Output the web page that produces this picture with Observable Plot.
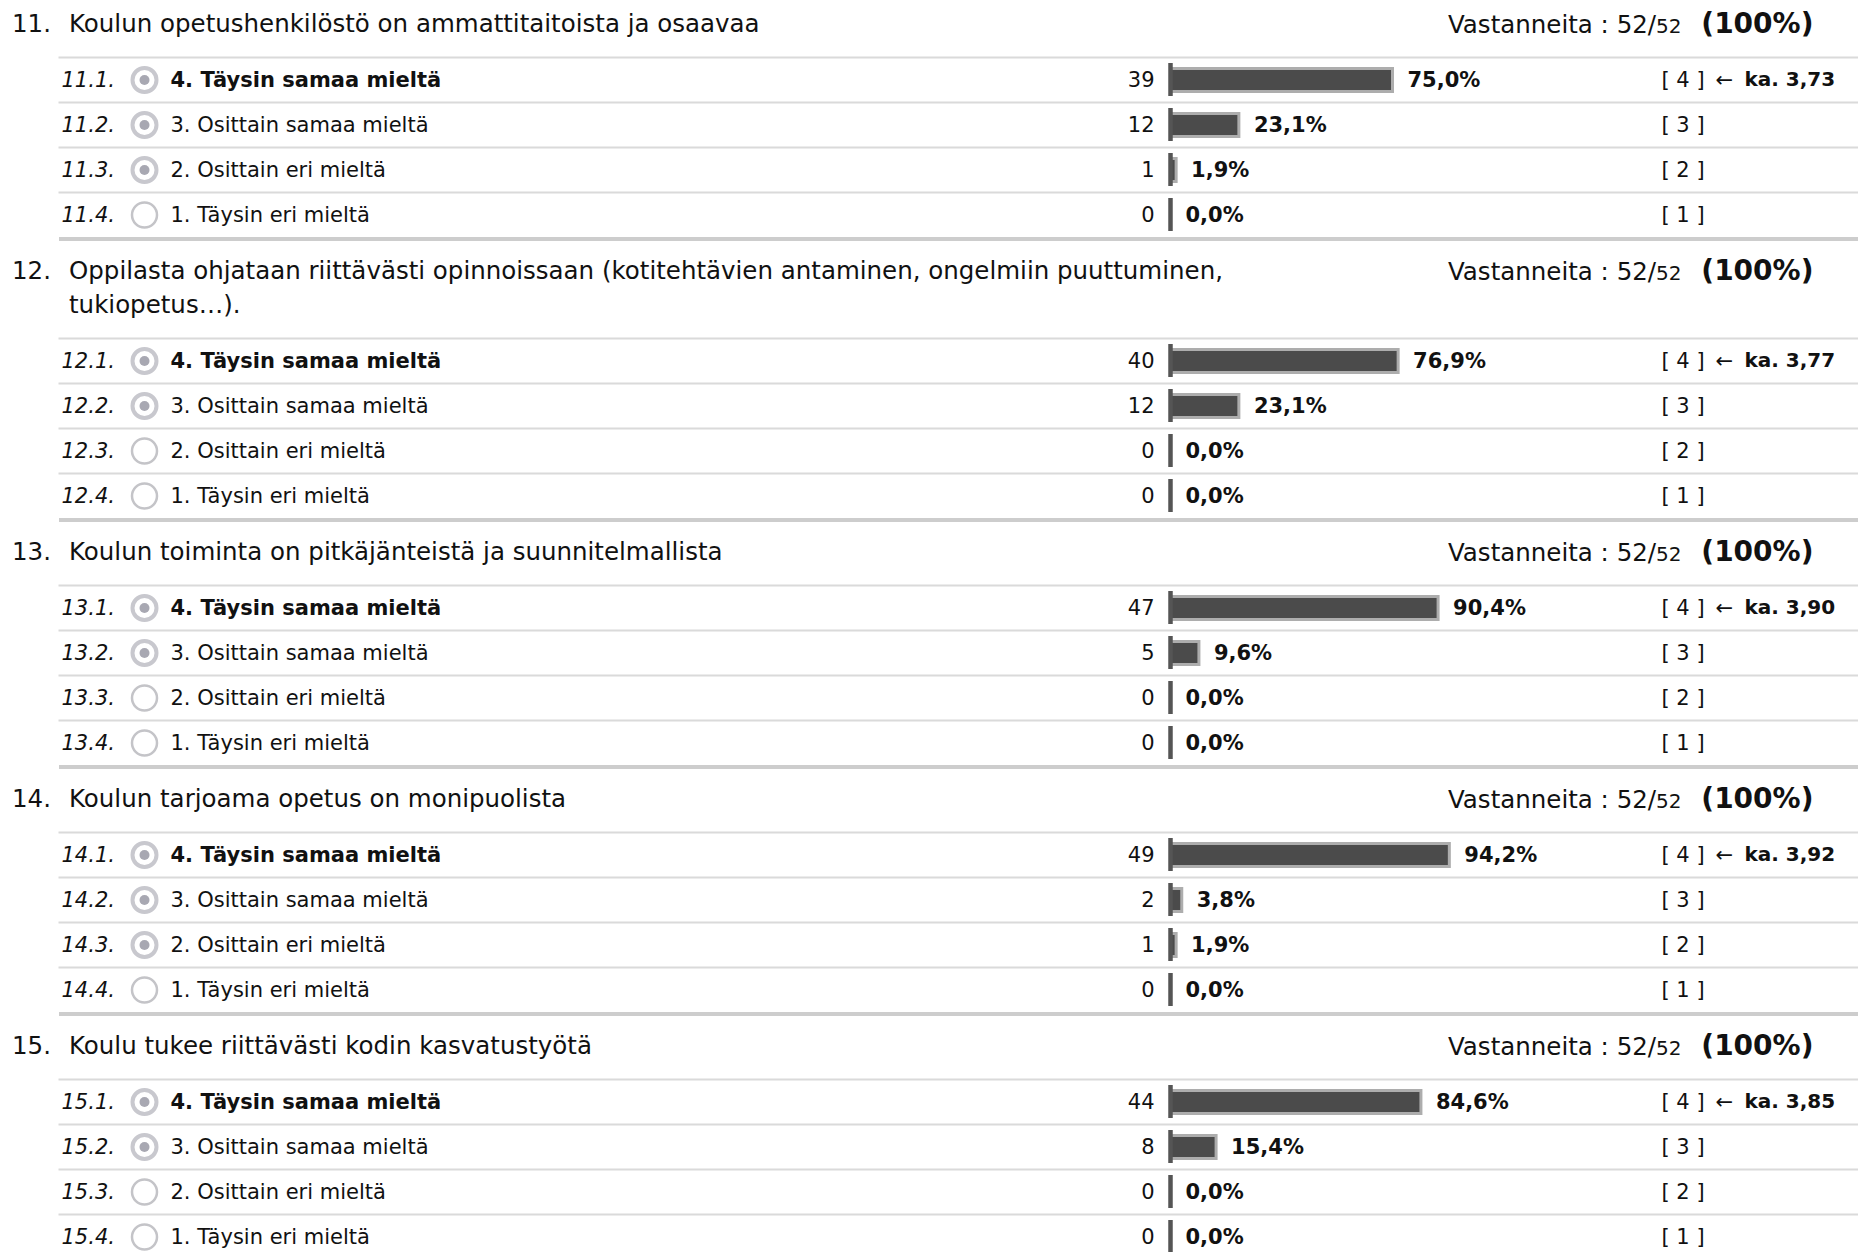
<!DOCTYPE html>
<html lang="fi">
<head>
<meta charset="utf-8">
<script src="https://cdn.jsdelivr.net/npm/d3@7"></script>
<script src="https://cdn.jsdelivr.net/npm/@observablehq/plot@0.6"></script>
<style>
  html, body { margin: 0; padding: 0; background: #fff; }
  body {
    width: 1858px; height: 1252px; overflow: hidden;
    font-family: "DejaVu Sans", sans-serif;
    color: #111;
  }
  #survey { margin-top: -10px; }
  .rule { margin-left: 59px; height: 4px; background: #cdcdcd; }
  .head { position: relative; padding: 13px 0 14px; font-size: 24.5px; line-height: 34px; }
  .num { position: absolute; left: 12px; top: 13px; }
  .qtext { display: block; margin-left: 69px; width: 1180px; }
  .resp { position: absolute; left: 1448px; top: 13px; white-space: nowrap; }
  .resp small { font-size: 20px; }
  .resp b { margin-left: 12px; font-size: 28px; }
  svg { display: block; }
</style>
</head>
<body>
<div id="survey"></div>
<script>
// Survey questions 11–15 with answer distributions (n = 52)
const questionNumbers = ["11", "12", "13", "14", "15"];
const questionTexts = [
  "Koulun opetushenkilöstö on ammattitaitoista ja osaavaa",
  "Oppilasta ohjataan riittävästi opinnoissaan (kotitehtävien antaminen, ongelmiin puuttuminen, tukiopetus…).",
  "Koulun toiminta on pitkäjänteistä ja suunnitelmallista",
  "Koulun tarjoama opetus on monipuolista",
  "Koulu tukee riittävästi kodin kasvatustyötä"
];
const optionLabels = [
  "4. Täysin samaa mieltä",
  "3. Osittain samaa mieltä",
  "2. Osittain eri mieltä",
  "1. Täysin eri mieltä"
];
const optionValues = [4, 3, 2, 1];
const counts = [
  [39, 12, 1, 0],
  [40, 12, 0, 0],
  [47, 5, 0, 0],
  [49, 2, 1, 0],
  [44, 8, 0, 0]
];
const percents = [
  [75.0, 23.1, 1.9, 0.0],
  [76.9, 23.1, 0.0, 0.0],
  [90.4, 9.6, 0.0, 0.0],
  [94.2, 3.8, 1.9, 0.0],
  [84.6, 15.4, 0.0, 0.0]
];
const answered = [52, 52, 52, 52, 52];
const invited = [52, 52, 52, 52, 52];
const answeredShare = [100, 100, 100, 100, 100];
const averages = [3.73, 3.77, 3.90, 3.92, 3.85];

const fi1 = d3.format(".1f");
const fi2 = d3.format(".2f");
const comma = (s) => s.replace(".", ",");

const container = document.getElementById("survey");

questionNumbers.forEach((qn, i) => {
  const block = document.createElement("div");

  const rule = document.createElement("div");
  rule.className = "rule";
  block.appendChild(rule);

  const head = document.createElement("div");
  head.className = "head";
  const num = document.createElement("span");
  num.className = "num";
  num.textContent = qn + ".";
  const qtext = document.createElement("span");
  qtext.className = "qtext";
  qtext.textContent = questionTexts[i];
  const resp = document.createElement("span");
  resp.className = "resp";
  resp.innerHTML = `Vastanneita : ${answered[i]}/<small>${invited[i]}</small> <b>(${answeredShare[i]}%)</b>`;
  head.append(num, qtext, resp);
  block.appendChild(head);

  const rows = optionLabels.map((label, j) => ({
    code: `${qn}.${j + 1}.`,
    label,
    value: optionValues[j],
    count: counts[i][j],
    pct: percents[i][j],
    first: j === 0
  }));

  const plot = Plot.plot({
    width: 1858,
    height: 182,
    marginTop: 1,
    marginBottom: 0,
    marginLeft: 59,
    marginRight: 0,
    x: {domain: [0, 100], range: [1172, 1468], axis: null},
    fy: {domain: rows.map((d) => d.code), padding: 0, axis: null},
    style: {
      fontFamily: '"DejaVu Sans", sans-serif',
      fontSize: "21px",
      color: "#111",
      overflow: "visible"
    },
    marks: [
      // thin separator above each answer row
      Plot.frame({anchor: "top", stroke: "#dadada", strokeWidth: 2}),
      // item number
      Plot.text(rows, {fy: "code", text: "code", frameAnchor: "left", dx: 2, textAnchor: "start", fontStyle: "italic"}),
      // radio buttons: chosen by somebody vs. nobody
      Plot.dot(rows, {fy: "code", frameAnchor: "left", dx: 85, r: 12, fill: "white", stroke: "#c8c8ce", strokeWidth: 4, filter: (d) => d.count > 0}),
      Plot.dot(rows, {fy: "code", frameAnchor: "left", dx: 85, r: 5, fill: "#a8a8b2", filter: (d) => d.count > 0}),
      Plot.dot(rows, {fy: "code", frameAnchor: "left", dx: 85, r: 12.5, fill: "white", stroke: "#c4c4c8", strokeWidth: 2.5, filter: (d) => d.count === 0}),
      // option labels (top option in bold)
      Plot.text(rows, {fy: "code", text: "label", frameAnchor: "left", dx: 111, textAnchor: "start", fontWeight: "bold", filter: (d) => d.first}),
      Plot.text(rows, {fy: "code", text: "label", frameAnchor: "left", dx: 111, textAnchor: "start", filter: (d) => !d.first}),
      // answer counts
      Plot.text(rows, {fy: "code", x: 0, text: "count", textAnchor: "end", dx: -18}),
      // bars: light rim and dark core
      Plot.barX(rows, {fy: "code", x: "pct", fill: "#adadad", insetTop: 10, insetBottom: 9, filter: (d) => d.pct > 0}),
      Plot.barX(rows, {fy: "code", x: "pct", fill: "#4b4b4b", insetTop: 13, insetBottom: 12, insetRight: 3, filter: (d) => d.pct > 0}),
      // baseline tick
      Plot.ruleX(rows, {fy: "code", x: 0, dx: -2, insetTop: 6, insetBottom: 6, stroke: "#555", strokeWidth: 4.5}),
      // percentage labels
      Plot.text(rows, {fy: "code", x: "pct", text: (d) => comma(fi1(d.pct)) + "%", dx: 13, textAnchor: "start", fontWeight: "bold"}),
      // scale values and mean
      Plot.text(rows, {fy: "code", text: (d) => `[ ${d.value} ]`, frameAnchor: "left", dx: 1602, textAnchor: "start"}),
      Plot.text(rows, {fy: "code", text: () => "←", frameAnchor: "left", dx: 1656, textAnchor: "start", filter: (d) => d.first}),
      Plot.text(rows, {fy: "code", text: () => "ka. " + comma(fi2(averages[i])), frameAnchor: "left", dx: 1685, textAnchor: "start", fontWeight: "bold", fontSize: 20, filter: (d) => d.first})
    ]
  });
  block.appendChild(plot);
  container.appendChild(block);
});
</script>
</body>
</html>
